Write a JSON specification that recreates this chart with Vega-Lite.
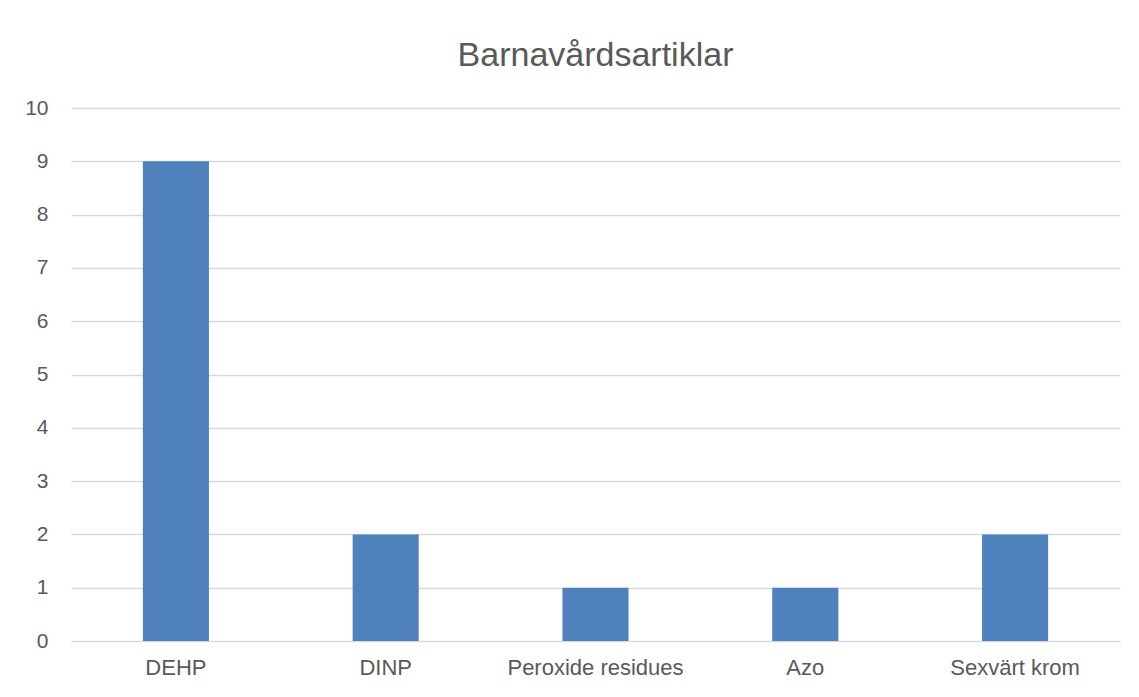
{
  "$schema": "https://vega.github.io/schema/vega-lite/v6.json",
  "autosize": {"type": "none"},
  "width": 1049,
  "height": 533,
  "padding": {"left": 71, "top": 108, "right": 19, "bottom": 56},
  "background": "white",
  "title": {
    "text": "Barnavårdsartiklar",
    "font": "Liberation Sans",
    "fontSize": 34,
    "fontWeight": "normal",
    "color": "#595959",
    "anchor": "middle",
    "baseline": "alphabetic",
    "offset": 43,
    "dy": 46
  },
  "data": {
    "values": [
      {"substans": "DEHP", "antal": 9},
      {"substans": "DINP", "antal": 2},
      {"substans": "Peroxide residues", "antal": 1},
      {"substans": "Azo", "antal": 1},
      {"substans": "Sexvärt krom", "antal": 2}
    ]
  },
  "mark": {"type": "bar", "color": "#4f81bd"},
  "encoding": {
    "x": {
      "field": "substans",
      "type": "nominal",
      "sort": null,
      "scale": {"paddingInner": 0.685, "paddingOuter": 0.3425},
      "axis": {
        "title": null,
        "labelAngle": 0,
        "labelFont": "Liberation Sans",
        "labelFontSize": 22,
        "labelColor": "#595959",
        "labelPadding": 16,
        "ticks": false,
        "domain": false,
        "grid": false
      }
    },
    "y": {
      "field": "antal",
      "type": "quantitative",
      "scale": {"domain": [0, 10], "nice": false},
      "axis": {
        "title": null,
        "values": [0, 1, 2, 3, 4, 5, 6, 7, 8, 9, 10],
        "labelFont": "Liberation Sans",
        "labelFontSize": 21,
        "labelColor": "#595959",
        "labelPadding": 23,
        "ticks": false,
        "domain": false,
        "grid": true,
        "gridColor": "#d9d9d9",
        "gridWidth": 1.5
      }
    }
  },
  "config": {"view": {"stroke": null}}
}
